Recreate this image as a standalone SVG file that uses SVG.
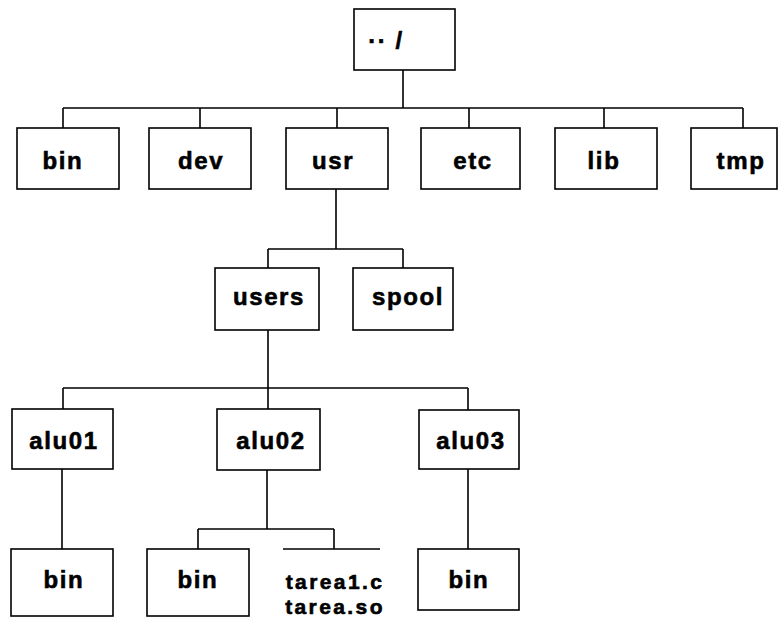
<svg xmlns="http://www.w3.org/2000/svg" width="783" height="618" viewBox="0 0 783 618">
<style>
.box{fill:#fff;stroke:#000;stroke-width:1.6}
.lbl{font-family:"Liberation Sans",Arial,sans-serif;font-weight:bold;font-size:24px;letter-spacing:1.6px;fill:#000;stroke:#000;stroke-width:0.6;text-anchor:middle}
.sm{font-size:21px;letter-spacing:2.4px}
.conn{fill:none;stroke:#000;stroke-width:1.6}
</style>
<rect width="783" height="618" fill="#fff"/>
<g id="connectors">
<path class="conn" d="M403,70 V108 M63,108 H743 M63,108 V128 M200,108 V128 M337,108 V128 M469,108 V128 M604,108 V128 M743,108 V128"/>
<path class="conn" d="M336,189 V249 M268,249 H403 M268,249 V268 M403,249 V268"/>
<path class="conn" d="M268,330 V388 M63,388 H468 M63,388 V409 M268,388 V409 M468,388 V410"/>
<path class="conn" d="M62,469 V549 M267,470 V529 M198,529 H334 M198,529 V549 M334,529 V549 M283,549 H380 M468,469 V549"/>
</g>
<g id="root"><rect class="box" x="354" y="9" width="101" height="61"/><text class="lbl" x="386" y="49">·· /</text></g>
<g id="bin"><rect class="box" x="17" y="128" width="102" height="61"/><text class="lbl" x="63" y="169">bin</text></g>
<g id="dev"><rect class="box" x="149" y="128" width="102" height="61"/><text class="lbl" x="201" y="169">dev</text></g>
<g id="usr"><rect class="box" x="286" y="128" width="102" height="61"/><text class="lbl" x="333" y="169">usr</text></g>
<g id="etc"><rect class="box" x="421" y="128" width="99" height="61"/><text class="lbl" x="473" y="169">etc</text></g>
<g id="lib"><rect class="box" x="555" y="128" width="102" height="61"/><text class="lbl" x="604" y="169">lib</text></g>
<g id="tmp"><rect class="box" x="691" y="128" width="86" height="61"/><text class="lbl" x="741" y="169">tmp</text></g>
<g id="users"><rect class="box" x="215" y="268" width="104" height="62"/><text class="lbl" x="269" y="305">users</text></g>
<g id="spool"><rect class="box" x="353" y="268" width="100" height="62"/><text class="lbl" x="408" y="305">spool</text></g>
<g id="alu01"><rect class="box" x="12" y="409" width="101" height="60"/><text class="lbl" x="64" y="449">alu01</text></g>
<g id="alu02"><rect class="box" x="217" y="409" width="103" height="61"/><text class="lbl" x="271" y="449">alu02</text></g>
<g id="alu03"><rect class="box" x="419" y="410" width="100" height="59"/><text class="lbl" x="471" y="449">alu03</text></g>
<g id="bin1"><rect class="box" x="11" y="549" width="102" height="67"/><text class="lbl" x="64" y="588">bin</text></g>
<g id="bin2"><rect class="box" x="147" y="549" width="102" height="67"/><text class="lbl" x="198" y="588">bin</text></g>
<g id="tarea"><text class="lbl sm" x="335" y="589">tarea1.c</text><text class="lbl sm" x="335" y="614">tarea.so</text></g>
<g id="bin3"><rect class="box" x="418" y="549" width="101" height="61"/><text class="lbl" x="469" y="588">bin</text></g>
</svg>
